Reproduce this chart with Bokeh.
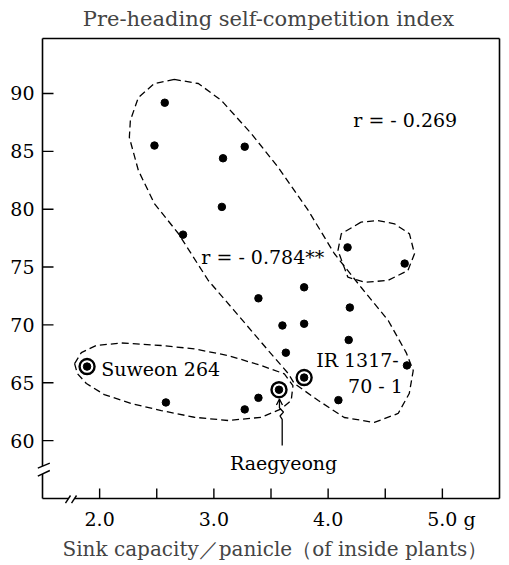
from bokeh.plotting import figure
from bokeh.models import Range1d, FixedTicker, Arrow, OpenHead
from bokeh.embed import file_html
from bokeh.resources import INLINE
from bokeh.core.properties import value

# ---------------- data ----------------
x_vals = [2.57, 2.48, 3.08, 3.27, 3.07, 2.73, 4.17, 4.67, 3.39, 3.79,
          4.19, 3.60, 3.79, 4.18, 3.63, 4.69, 2.58, 3.27, 3.39, 4.09]
y_vals = [89.2, 85.5, 84.4, 85.4, 80.2, 77.8, 76.7, 75.3, 72.3, 73.25,
          71.5, 69.95, 70.1, 68.7, 67.6, 66.5, 63.3, 62.7, 63.7, 63.5]

named_varieties = ["Suweon 264", "IR 1317-70-1", "Raegyeong"]
named_x = [1.89, 3.79, 3.57]
named_y = [66.4, 65.45, 64.4]

x_tick_pos = [2.0, 2.5, 3.0, 3.5, 4.0, 4.5, 5.0]
x_label_pos = [2.0, 3.0, 4.0, 5.0]
x_label_text = ["2.0", "3.0", "4.0", "\u00a0\u00a0\u00a05.0 g"]
y_tick_pos = [60, 65, 70, 75, 80, 85, 90]

corr_text = ["r = - 0.269", "r = - 0.784**"]

# enclosing loops (data units)
big_loop_x = [2.654, 2.479, 2.339, 2.269, 2.260, 2.339, 2.479, 2.689, 2.951, 3.178,
              3.476, 3.651, 3.704, 3.914, 4.141, 4.404, 4.613, 4.710, 4.745, 4.683,
              4.526, 4.290, 4.054, 3.826, 3.564, 3.327, 3.065, 2.864, 2.654]
big_loop_y = [91.21, 90.86, 89.65, 87.67, 86.20, 83.35, 80.49, 77.90, 73.84, 71.24,
              67.79, 65.80, 64.94, 63.47, 62.00, 61.57, 62.35, 64.07, 66.06, 67.61,
              70.38, 73.23, 76.17, 79.89, 83.60, 86.54, 89.40, 90.86, 91.21]
small_loop_x = [4.288, 4.115, 4.086, 4.173, 4.318, 4.523, 4.698, 4.756, 4.712, 4.581, 4.436, 4.288]
small_loop_y = [78.88, 77.87, 76.43, 74.12, 73.69, 73.84, 74.70, 76.15, 77.87, 78.74, 79.02, 78.88]
suweon_loop_x = [1.781, 1.840, 1.971, 2.190, 2.540, 2.829, 3.126, 3.415, 3.617, 3.692,
                 3.677, 3.590, 3.415, 3.126, 2.829, 2.540, 2.277, 2.041, 1.884, 1.805, 1.781]
suweon_loop_y = [66.66, 67.61, 68.22, 68.44, 68.22, 67.93, 67.35, 66.49, 65.77, 64.76,
                 63.47, 62.75, 62.02, 61.74, 62.02, 62.60, 63.21, 63.98, 64.94, 65.80, 66.66]

# ---------------- layout ----------------
X0, X1 = 1.5, 5.5
Y0, Y1 = 55.0, 94.75
FONT = value("DejaVu Serif")

p = figure(width=505, height=563, output_backend="svg", toolbar_location=None,
           x_range=Range1d(1.4387, 5.5175), y_range=Range1d(54.4815, 95.009),
           min_border_left=35, min_border_right=4, min_border_top=35, min_border_bottom=59)
p.outline_line_color = None
p.xgrid.visible = False
p.ygrid.visible = False
p.background_fill_color = "white"
p.border_fill_color = "white"

p.title.text = "Pre-heading self-competition index"
p.title.align = "center"
p.title.text_font = "DejaVu Serif"
p.title.text_font_size = "21px"
p.title.text_font_style = "normal"
p.title.standoff = 9

for ax in (p.xaxis[0], p.yaxis[0]):
    ax.axis_line_color = None
    ax.major_tick_line_color = None
    ax.minor_tick_line_color = None
    ax.major_tick_out = 0
    ax.major_tick_in = 0
    ax.major_label_text_font = "DejaVu Serif"
    ax.major_label_text_font_size = "19px"
    ax.major_label_text_color = "black"

p.xaxis.ticker = FixedTicker(ticks=x_label_pos)
p.xaxis.major_label_overrides = dict(zip(x_label_pos, x_label_text))
p.xaxis.major_label_standoff = 3
p.xaxis.axis_label = "\u00a0\u00a0Sink capacity／panicle（of inside plants）"
p.xaxis.axis_label_text_font = "DejaVu Serif"
p.xaxis.axis_label_text_font_size = "20px"
p.xaxis.axis_label_text_font_style = "normal"
p.xaxis.axis_label_standoff = 4

p.yaxis.ticker = FixedTicker(ticks=y_tick_pos)
p.yaxis.major_label_standoff = 1

# frame with axis breaks
p.segment(x0=[X0, X0, X0, X0, X1],
          y0=[Y0, 57.8, Y0, Y1, Y0],
          x1=[X0, X0, 1.728, X1, X1],
          y1=[57.12, Y1, Y0, Y1, Y1],
          line_color="black", line_width=1.6)
p.segment(x0=[1.781], y0=[Y0], x1=[X1], y1=[Y0], line_color="black", line_width=1.6)
# break marks
p.segment(x0=[1.459, 1.459, 1.701, 1.754], y0=[57.62, 56.93, 54.594, 54.594],
          x1=[1.564, 1.564, 1.745, 1.798], y1=[58.05, 57.42, 55.259, 55.259],
          line_color="black", line_width=1.4)
# ticks (inside)
p.segment(x0=x_tick_pos, y0=[Y0] * len(x_tick_pos), x1=x_tick_pos,
          y1=[Y0 + 10 / 11.572] * len(x_tick_pos), line_color="black", line_width=1.4)
p.segment(x0=[X0] * len(y_tick_pos), y0=y_tick_pos, x1=[X0 + 11 / 114.25] * len(y_tick_pos),
          y1=y_tick_pos, line_color="black", line_width=1.4)

# loops
for lx, ly in ((big_loop_x, big_loop_y), (small_loop_x, small_loop_y), (suweon_loop_x, suweon_loop_y)):
    p.line(lx, ly, line_color="black", line_width=1.3, line_dash="7 4")

# points
p.scatter(x_vals, y_vals, size=7.5, color="black")
p.scatter(named_x, named_y, size=7.5, color="black")
p.scatter(named_x, named_y, size=15, fill_color=None, line_color="black", line_width=2.4)

# texts
p.text(x=[4.22, 2.89], y=[87.75, 75.83], text=corr_text, text_font=FONT,
       text_font_size="19px", text_baseline="middle", text_align="left", text_color="black")
p.text(x=[2.015, 3.895, 4.175], y=[66.15, 66.93, 64.69],
       text=["Suweon 264", "IR 1317-", "70 - 1"], text_font=FONT,
       text_font_size="19px", text_baseline="middle", text_align="left", text_color="black")
p.text(x=[3.61], y=[58.1], text=["Raegyeong"], text_font=FONT,
       text_font_size="19px", text_baseline="middle", text_align="center", text_color="black")

# arrow to Raegyeong
arrow_x = [3.598, 3.598, 3.579, 3.609, 3.574]
arrow_y = [59.58, 61.83, 62.13, 62.47, 62.82]
p.line(arrow_x, arrow_y, line_color="black", line_width=1.3)
p.add_layout(Arrow(x_start=3.574, y_start=62.82, x_end=3.574, y_end=63.6,
                   line_color="black", line_width=1.3,
                   end=OpenHead(size=6, line_color="black", line_width=1.3)))

open("out.html", "w").write(file_html(p, INLINE))
